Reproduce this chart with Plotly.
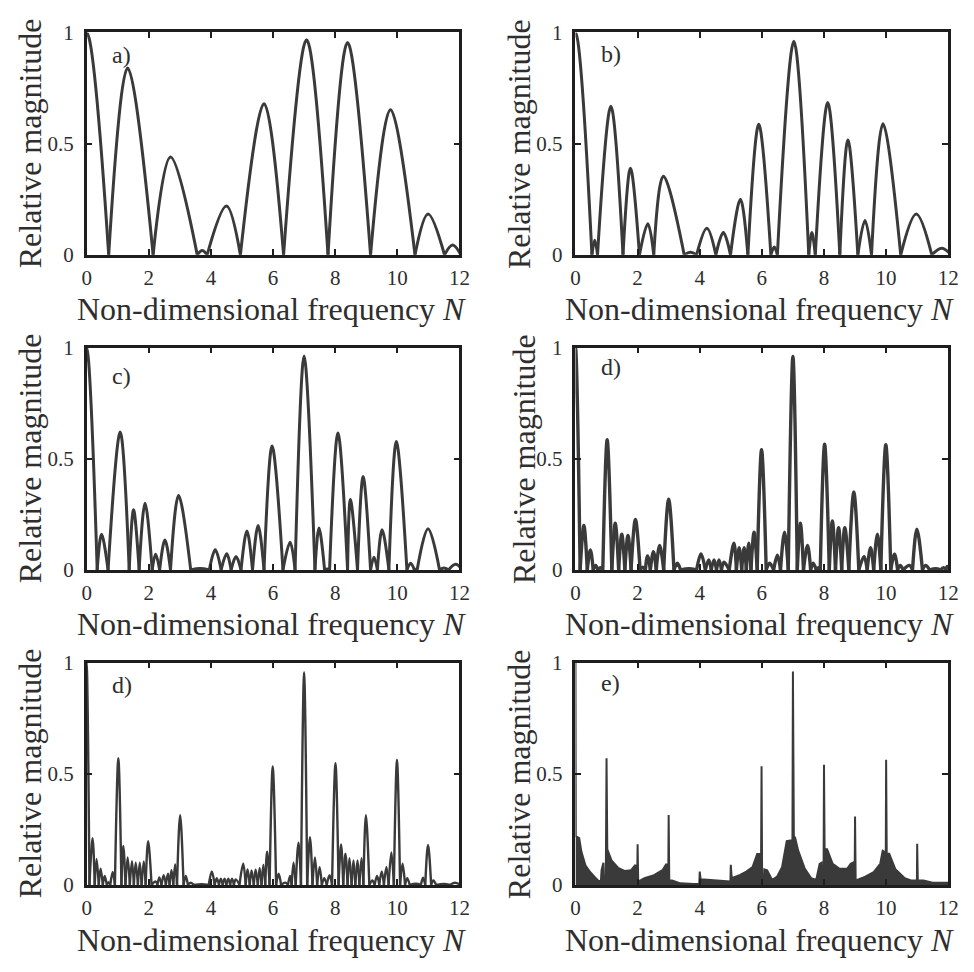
import plotly.graph_objects as go

# ---------------- data ----------------
# Each lobe-type curve: zero crossings (len n+1) and lobe peaks (len n)
a_zeros = [-0.71, 0.71, 2.14, 3.56, 3.88, 4.95, 6.34, 7.77, 9.14, 10.57, 11.52, 12.05]
a_peak_x = [0.0, 1.32, 2.70, 3.72, 4.50, 5.71, 7.08, 8.40, 9.78, 10.99, 11.78]
a_peak_y = [1.0, 0.84, 0.44, 0.02, 0.22, 0.68, 0.967, 0.955, 0.653, 0.184, 0.044]

b_zeros = [-0.53, 0.53, 0.71, 1.53, 2.06, 2.52, 3.50, 3.90, 4.52, 4.99, 5.55, 6.29, 6.50,
           7.51, 7.72, 8.51, 9.09, 9.53, 10.47, 11.47, 12.1]
b_peak_x = [0.0, 0.62, 1.14, 1.77, 2.33, 2.83, 3.70, 4.23, 4.76, 5.31, 5.90, 6.40, 7.03,
            7.61, 8.12, 8.77, 9.32, 9.90, 10.97, 11.79]
b_peak_y = [1.0, 0.066, 0.668, 0.39, 0.14, 0.354, 0.012, 0.12, 0.10, 0.25, 0.587, 0.035, 0.96,
            0.10, 0.685, 0.517, 0.155, 0.59, 0.184, 0.03]

c_zeros = [-0.34, 0.34, 0.69, 1.37, 1.69, 2.11, 2.35, 2.70, 3.35, 3.95, 4.33, 4.65, 4.97, 5.34,
           5.71, 6.32, 6.71, 7.35, 7.66, 7.82, 8.40, 8.72, 9.14, 9.36, 9.73, 10.31, 10.55, 10.64,
           11.36, 11.65, 12.1]
c_peak_x = [0.0, 0.48, 1.08, 1.51, 1.88, 2.22, 2.52, 2.96, 3.65, 4.14, 4.51, 4.81, 5.16, 5.52,
            5.97, 6.55, 7.0, 7.48, 7.74, 8.09, 8.49, 8.90, 9.25, 9.51, 9.97, 10.43, 10.60,
            10.99, 11.5, 11.88]
c_peak_y = [1.0, 0.16, 0.62, 0.27, 0.30, 0.07, 0.134, 0.334, 0.006, 0.09, 0.072, 0.06, 0.175, 0.20,
            0.557, 0.124, 0.962, 0.188, 0.004, 0.616, 0.317, 0.42, 0.057, 0.18, 0.577, 0.03, 0.003,
            0.185, 0.008, 0.025]

d_zeros = [-0.15, 0.15, 0.38, 0.57, 0.72, 0.88, 1.17, 1.39, 1.59, 1.79, 2.08, 2.25, 2.41, 2.60,
           2.84, 3.17, 3.38, 3.90, 4.18, 4.37, 4.54, 4.70, 4.95, 5.18, 5.35, 5.50, 5.65, 5.85,
           6.14, 6.38, 6.60, 6.85, 7.14, 7.34, 7.57, 7.75, 7.88, 8.17, 8.37, 8.57, 8.80, 9.12,
           9.39, 9.60, 9.83, 10.15, 10.37, 10.55, 10.85, 11.17, 11.40, 11.75, 11.92, 12.05]
d_peak_x = [0.0, 0.27, 0.48, 0.65, 0.80, 1.02, 1.28, 1.49, 1.69, 1.93, 2.17, 2.32, 2.51, 2.71,
            3.00, 3.28, 3.65, 4.04, 4.29, 4.46, 4.62, 4.78, 5.10, 5.27, 5.43, 5.58, 5.75,
            5.99, 6.25, 6.50, 6.73, 7.00, 7.24, 7.47, 7.65, 7.82, 8.02, 8.27, 8.47, 8.67,
            8.96, 9.29, 9.50, 9.72, 9.99, 10.27, 10.45, 10.75, 10.99, 11.27, 11.6, 11.85, 11.97]
d_peak_y = [1.0, 0.20, 0.09, 0.02, 0.01, 0.585, 0.21, 0.16, 0.155, 0.227, 0.012, 0.063, 0.082, 0.11,
            0.318, 0.03, 0.005, 0.072, 0.045, 0.045, 0.045, 0.035, 0.12, 0.10, 0.10, 0.12, 0.17,
            0.54, 0.03, 0.066, 0.17, 0.96, 0.21, 0.11, 0.03, 0.01, 0.565, 0.22, 0.19, 0.19,
            0.35, 0.06, 0.10, 0.16, 0.563, 0.07, 0.02, 0.02, 0.183, 0.02, 0.005, 0.01, 0.015]

d2_zeros = [-0.09, 0.09, 0.26, 0.39, 0.52, 0.65, 0.76, 0.91, 1.12, 1.25, 1.39, 1.52, 1.65, 1.77,
            1.90, 2.09, 2.28, 2.41, 2.55, 2.67, 2.79, 2.91, 3.12, 3.26, 3.45, 3.93, 4.12, 4.26,
            4.38, 4.50, 4.62, 4.74, 4.92, 5.12, 5.25, 5.38, 5.51, 5.63, 5.75, 5.89, 6.10, 6.26,
            6.48, 6.60, 6.73, 6.90, 7.10, 7.27, 7.42, 7.57, 7.73, 7.90, 8.11, 8.26, 8.40, 8.53,
            8.65, 8.78, 8.91, 9.10, 9.27, 9.42, 9.57, 9.72, 9.89, 10.09, 10.25, 10.40, 10.76,
            10.90, 11.09, 11.25, 11.7, 12.05]
d2_peak_x = [0.0, 0.19, 0.32, 0.45, 0.58, 0.70, 0.84, 1.02, 1.18, 1.32, 1.46, 1.58, 1.71, 1.84,
             1.98, 2.22, 2.34, 2.48, 2.62, 2.73, 2.85, 3.01, 3.19, 3.35, 3.70, 4.03, 4.19,
             4.32, 4.44, 4.56, 4.68, 4.80, 5.04, 5.18, 5.31, 5.44, 5.57, 5.69, 5.81, 5.99, 6.18,
             6.40, 6.55, 6.66, 6.82, 7.00, 7.19, 7.35, 7.50, 7.65, 7.82, 8.01, 8.19, 8.33, 8.46,
             8.59, 8.72, 8.85, 8.99, 9.20, 9.35, 9.50, 9.65, 9.81, 9.99, 10.17, 10.32, 10.6,
             10.83, 10.99, 11.16, 11.5, 11.85]
d2_peak_y = [1.0, 0.21, 0.117, 0.073, 0.04, 0.012, 0.058, 0.57, 0.175, 0.124, 0.107, 0.10, 0.10, 0.105,
             0.197, 0.015, 0.034, 0.044, 0.05, 0.066, 0.092, 0.314, 0.04, 0.01, 0.003, 0.061, 0.03,
             0.028, 0.028, 0.028, 0.028, 0.025, 0.095, 0.07, 0.065, 0.068, 0.075, 0.09, 0.149, 0.533, 0.05,
             0.01, 0.04, 0.10, 0.19, 0.956, 0.215, 0.124, 0.08, 0.03, 0.044, 0.547, 0.182, 0.14, 0.12,
             0.11, 0.11, 0.12, 0.314, 0.02, 0.04, 0.06, 0.08, 0.146, 0.562, 0.095, 0.03, 0.005,
             0.032, 0.18, 0.02, 0.004, 0.01]

# panel e: envelope of the dense oscillation (filled), with the narrow main spikes
e_x = [0.0, 0.01, 0.12, 0.19, 0.32, 0.47, 0.63, 0.76, 0.82, 0.84, 0.90, 0.92, 0.975, 1.0, 1.025,
       1.16, 1.37, 1.58, 1.79, 1.90, 1.93, 1.95, 1.985, 2.0, 2.02, 2.22, 2.53, 2.80, 2.93, 2.95,
       2.985, 3.0, 3.02, 3.11, 3.38, 3.8, 3.97, 3.985, 4.0, 4.03, 4.5, 4.9, 4.96, 4.985, 5.0, 5.03,
       5.3, 5.5, 5.70, 5.85, 5.975, 5.99, 6.01, 6.06, 6.08, 6.17, 6.33, 6.49, 6.65, 6.80, 6.93,
       6.95, 6.98, 7.0, 7.03, 7.07, 7.17, 7.38, 7.59, 7.75, 7.86, 7.92, 7.94, 7.985, 8.0, 8.02,
       8.1, 8.28, 8.49, 8.75, 8.86, 8.93, 8.95, 8.985, 9.0, 9.02, 9.07, 9.33, 9.60, 9.81, 9.89,
       9.93, 9.95, 9.985, 10.0, 10.02, 10.1, 10.3, 10.6, 10.8, 10.96, 10.97, 10.99, 11.0, 11.02,
       11.2, 11.5, 12.0]
e_y = [1.0, 0.22, 0.21, 0.15, 0.088, 0.058, 0.034, 0.015, 0.02, 0.066, 0.10, 0.0, 0.0, 0.57, 0.16,
       0.11, 0.077, 0.063, 0.066, 0.088, 0.09, 0.0, 0.0, 0.183, 0.015, 0.03, 0.044, 0.066, 0.095, 0.0,
       0.0, 0.314, 0.02, 0.02, 0.007, 0.004, 0.004, 0.0, 0.06, 0.025, 0.02, 0.015, 0.015, 0.0, 0.09, 0.03,
       0.045, 0.06, 0.08, 0.139, 0.14, 0.534, 0.0, 0.0, 0.07, 0.066, 0.022, 0.037, 0.08, 0.197, 0.20,
       0.0, 0.0, 0.96, 0.22, 0.212, 0.154, 0.073, 0.03, 0.022, 0.095, 0.10, 0.0, 0.0, 0.54, 0.16,
       0.16, 0.095, 0.073, 0.073, 0.095, 0.10, 0.0, 0.0, 0.307, 0.022, 0.022, 0.037, 0.058, 0.095, 0.153,
       0.15, 0.0, 0.0, 0.563, 0.14, 0.14, 0.07, 0.03, 0.02, 0.02, 0.0, 0.0, 0.185, 0.02,
       0.02, 0.01, 0.01]

panel_labels = ["a)", "b)", "c)", "d)", "d)", "e)"]
x_ticks = [0, 2, 4, 6, 8, 10, 12]
y_ticks = [0, 0.5, 1]
y_tick_text = ["0", "0.5", "1"]
x_title = "Non-dimensional frequency <i>N</i>"
y_title = "Relative magnitude"

# ---------------- figure ----------------
W, H = 974, 972
LINE = "#3a3a3a"
AXC = "#1e1e1e"
TXT = "#2e2e2e"
FONT = "Liberation Serif, Times New Roman, serif"

def lobes(zeros, px, py):
    xs, ys = [], []
    for i in range(len(px)):
        xs += [zeros[i], px[i], zeros[i + 1], None]
        ys += [0, py[i], 0, None]
    return xs, ys

# plot areas in pixels: (left, top, right, bottom)
areas = [(83, 21, 462, 249), (580, 21, 959, 249),
         (83, 344, 462, 572), (580, 344, 959, 572),
         (83, 667, 462, 895), (580, 667, 959, 895)]

fig = go.Figure()

lobe_sets = [(a_zeros, a_peak_x, a_peak_y, 3.0), (b_zeros, b_peak_x, b_peak_y, 3.0),
             (c_zeros, c_peak_x, c_peak_y, 3.0), (d_zeros, d_peak_x, d_peak_y, 3.4),
             (d2_zeros, d2_peak_x, d2_peak_y, 2.4)]
for i, (z, px, py, lw) in enumerate(lobe_sets):
    xs, ys = lobes(z, px, py)
    fig.add_trace(go.Scatter(x=xs, y=ys, mode="lines", line=dict(color=LINE, width=lw, shape="spline"),
                             connectgaps=False, showlegend=False, hoverinfo="skip",
                             xaxis=f"x{i + 1}", yaxis=f"y{i + 1}"))
fig.add_trace(go.Scatter(x=e_x, y=e_y, mode="lines", line=dict(color=LINE, width=2),
                         fill="tozeroy", fillcolor=LINE, showlegend=False, hoverinfo="skip",
                         xaxis="x6", yaxis="y6"))

layout = dict(width=W, height=H, margin=dict(l=0, r=0, t=0, b=0),
              paper_bgcolor="white", plot_bgcolor="white", showlegend=False)
annotations = []
for i, (l, t, r, b) in enumerate(areas):
    n = i + 1
    sfx = "" if n == 1 else str(n)
    layout[f"xaxis{sfx}"] = dict(domain=[l / W, r / W], range=[0, 12], anchor=f"y{n}",
                                 tickvals=x_ticks, ticks="inside", ticklen=6, tickwidth=2, tickcolor=AXC,
                                 mirror="allticks", showline=True, linewidth=2.5, linecolor=AXC,
                                 showgrid=False, zeroline=False, ticklabelstandoff=2,
                                 tickfont=dict(family=FONT, size=21, color=TXT))
    layout[f"yaxis{sfx}"] = dict(domain=[1 - b / H, 1 - t / H], range=[0, 1], anchor=f"x{n}",
                                 tickvals=y_ticks, ticktext=y_tick_text, ticks="inside", ticklen=6,
                                 tickwidth=2, tickcolor=AXC, mirror="allticks", showline=True,
                                 linewidth=2.5, linecolor=AXC, showgrid=False, zeroline=False,
                                 ticklabelstandoff=6,
                                 tickfont=dict(family=FONT, size=21, color=TXT))
    # x title
    annotations.append(dict(text=x_title, x=((l + r) / 2 - 2) / W, y=1 - (b + 56) / H,
                            xref="paper", yref="paper", xanchor="center", yanchor="middle",
                            showarrow=False, font=dict(family=FONT, size=32, color=TXT)))
    # y title
    yt_x = 25 if l < 300 else (527 if n == 4 else 522)
    annotations.append(dict(text=y_title, x=yt_x / W, y=1 - (t + b) / 2 / H, textangle=-90,
                            xref="paper", yref="paper", xanchor="center", yanchor="middle",
                            showarrow=False, font=dict(family=FONT, size=32, color=TXT)))
    # panel label
    lab_off = [23, 22, 29, 20, 23, 21][i]
    annotations.append(dict(text=panel_labels[i], x=(l + 24) / W, y=1 - (t + lab_off) / H,
                            xref="paper", yref="paper", xanchor="left", yanchor="middle",
                            showarrow=False, font=dict(family=FONT, size=24, color=TXT)))
layout["annotations"] = annotations
fig.update_layout(**layout)
fig.write_html("out.html")
